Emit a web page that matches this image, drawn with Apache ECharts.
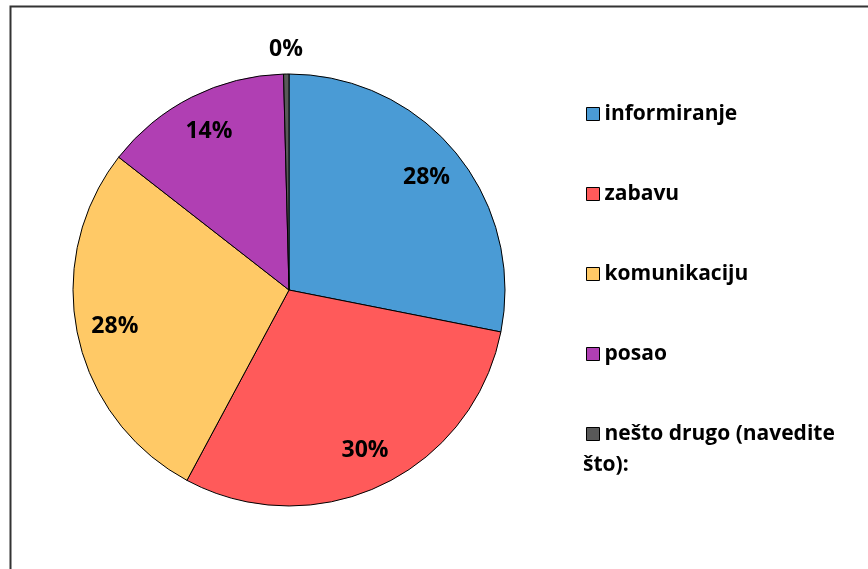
<!DOCTYPE html>
<html>
<head>
<meta charset="utf-8">
<script src="https://cdn.jsdelivr.net/npm/echarts@6/dist/echarts.min.js"></script>
<style>
  html, body { margin: 0; padding: 0; background: #fff; }
  #main { width: 868px; height: 569px; }
</style>
</head>
<body>
<div id="main"></div>
<script>
// podaci
var categories = ['informiranje', 'zabavu', 'komunikaciju', 'posao', 'nešto drugo (navedite što):'];
var values = [70, 74, 69, 35, 1];
var colors = ['#4A9BD5', '#FF5A5A', '#FFC966', '#B03FB3', '#595959'];

var myChart = echarts.init(document.getElementById('main'));

var pieData = categories.map(function (name, i) {
    return { name: name, value: values[i], itemStyle: { color: colors[i] } };
});
var total = values.reduce(function (a, b) { return a + b; }, 0);
function pct(p) { return Math.round(p.value / total * 100) + '%'; }

var labelFont = { fontFamily: 'Open Sans', fontWeight: 'bold', fontSize: 23, color: '#000' };
var R = 216;

var option = {
    animation: false,
    backgroundColor: '#fff',
    graphic: [
        { type: 'rect', shape: { x: 10.5, y: 6.5, width: 900, height: 600 },
          style: { fill: 'none', stroke: '#333', lineWidth: 2 }, silent: true },
        { type: 'text', left: 583, top: 455,
          style: { text: 'što):', fontFamily: 'Open Sans', fontWeight: 'bold', fontSize: 21, fill: '#000' } }
    ],
    legend: {
        orient: 'vertical',
        left: 581,
        top: 97,
        itemWidth: 13,
        itemHeight: 13,
        itemGap: 56,
        icon: 'rect',
        itemStyle: { borderColor: '#000', borderWidth: 1 },
        formatter: function (name) {
            return name === categories[4] ? 'nešto drugo (navedite' : name;
        },
        textStyle: { fontFamily: 'Open Sans', fontWeight: 'bold', fontSize: 21, color: '#000',
                     lineHeight: 24, padding: [0, 0, 0, 0] },
        data: categories
    },
    series: [
        {
            type: 'pie',
            center: [289, 290],
            radius: R,
            startAngle: 90,
            clockwise: true,
            itemStyle: { borderColor: '#000', borderWidth: 1 },
            label: { show: false },
            labelLine: { show: false },
            emphasis: { disabled: true },
            data: pieData
        },
        {
            // prsten za oznake unutar kruga
            type: 'pie',
            center: [289, 290],
            radius: [R * 0.62, R],
            startAngle: 90,
            silent: true,
            itemStyle: { color: 'transparent' },
            label: Object.assign({ show: true, position: 'inside', formatter: function (p) {
                return p.dataIndex === 4 ? '' : pct(p);
            } }, labelFont),
            labelLine: { show: false },
            emphasis: { disabled: true },
            data: pieData.map(function (d) { return { name: d.name, value: d.value }; })
        },
        {
            // oznaka izvan kruga za malu krišku
            type: 'pie',
            center: [289, 290],
            radius: [R, R * 1.2],
            startAngle: 90,
            silent: true,
            itemStyle: { color: 'transparent' },
            label: Object.assign({ show: true, position: 'inside', formatter: function (p) {
                return p.dataIndex === 4 ? pct(p) : '';
            } }, labelFont),
            labelLine: { show: false },
            emphasis: { disabled: true },
            data: pieData.map(function (d) { return { name: d.name, value: d.value }; })
        }
    ]
};

myChart.setOption(option);
</script>
</body>
</html>
